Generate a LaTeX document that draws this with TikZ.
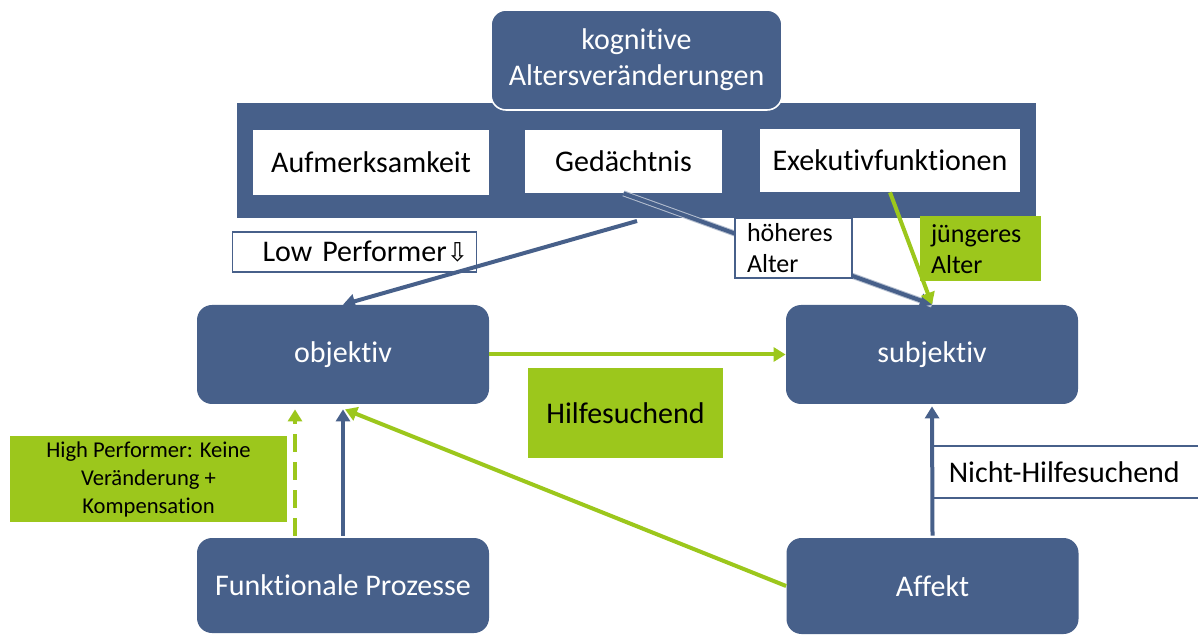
\documentclass[tikz,border=0pt]{standalone}
\usepackage{fontspec}
\setmainfont{Carlito}[Ligatures=NoCommon]
\newfontfamily\djv{DejaVu Sans}
\usetikzlibrary{arrows.meta,calc}
\definecolor{nblue}{HTML}{47608A}
\definecolor{ngreen}{HTML}{9CC71C}
\begin{document}
\begin{tikzpicture}[x=0.5pt,y=-0.5pt,
  big/.style={font=\fontsize{15}{18}\selectfont},
  bluebox/.style={big, fill=nblue, rounded corners=7.5pt, text=white, align=center, inner sep=0pt},
  whitebox/.style={big, fill=white, inner sep=0pt},
  labelbox/.style={big, fill=white, draw=nblue, line width=0.8pt, inner ysep=0pt},
  greenbox/.style={big, fill=ngreen, inner sep=0pt},
  barrow/.style={draw=nblue, line width=2pt, -{Triangle[length=6pt,width=7pt]}},
  garrow/.style={draw=ngreen, line width=2pt, -{Triangle[length=6pt,width=7pt]}}]
\clip (0,0) rectangle (1198,635);
\fill[white] (0,0) rectangle (1198,635);
% band and top box
\node[fill=nblue, inner sep=0pt, minimum width=399.5pt, minimum height=57.5pt] (band) at (636.5,160.5) {};
\node[bluebox, draw=white, line width=0.8pt, minimum width=145.5pt, minimum height=50pt, text depth=0.6ex] (kog) at (636.5,60) {kognitive\\Altersveränderungen};
\node[whitebox, minimum width=118pt, minimum height=32.5pt] (aufm) at (371,162.5) {Aufmerksamkeit};
\node[whitebox, minimum width=98.5pt, minimum height=31.5pt] (ged) at (623.5,161.5) {Gedächtnis};
\node[whitebox, minimum width=130pt, minimum height=31.5pt] (exek) at (890,160.5) {Exekutivfunktionen};
% main boxes
\node[bluebox, minimum width=146pt, minimum height=49.5pt] (obj) at (343,354.5) {objektiv};
\node[bluebox, minimum width=146pt, minimum height=49.5pt] (subj) at (932,354.5) {subjektiv};
\node[bluebox, minimum width=146pt, minimum height=47.5pt] (funk) at (343,585.5) {Funktionale Prozesse};
\node[bluebox, minimum width=146pt, minimum height=48pt] (aff) at (932.5,586) {Affekt};
\node[greenbox, minimum width=97.5pt, minimum height=45pt] (hilfe) at (625.5,413) {Hilfesuchend};
\node[greenbox, minimum width=138.5pt, minimum height=43pt, align=center, font=\fontsize{11.3}{14}\selectfont] (hp) at (148.5,479) {High Performer: Keine\\Veränderung +\\Kompensation};
% label boxes below arrows
\node[labelbox, minimum height=20pt, text width=114pt, align=right, inner xsep=4pt] (low) at (354.5,252) {Low Performer{\djv\fontsize{13}{15}\selectfont ⇩}};
\node[greenbox, minimum height=32.5pt, text width=49.5pt, align=left, inner xsep=5.5pt, font=\fontsize{13}{15.5}\selectfont] (jung) at (980.5,249) {jüngeres\\Alter};
\node[labelbox, anchor=west, minimum height=26pt, text width=140pt, align=left, inner xsep=8.5pt] (nicht) at (931,472) {Nicht-Hilfesuchend};
% arrows
\coordinate (gstart) at (637,221);
\draw[barrow] (gstart) -- (obj.north);
\draw[barrow, preaction={draw=nblue!40!white, line width=3pt, -}] (ged.south) -- (subj.north);
\draw[garrow] (exek.south) -- (subj.north);
\draw[garrow] (obj.east) -- (subj.west);
\draw[garrow, dash pattern=on 9pt off 5pt] ($(funk.north)+(-48,-2)$) -- ($(obj.south)+(-48,5)$);
\draw[barrow] ($(funk.north)+(0,-2)$) -- ($(obj.south)+(0,5)$);
\draw[garrow] (aff.west) -- ($(obj.south)+(2,5)$);
\draw[barrow] ($(aff.north)+(0,-2)$) -- ($(subj.south)+(0,2)$);
% box on top of arrow
\node[labelbox, minimum height=30pt, text width=46.5pt, align=left, inner xsep=6pt, font=\fontsize{13}{15.5}\selectfont] (hoh) at (793.5,248) {höheres\\Alter};
\end{tikzpicture}
\end{document}
